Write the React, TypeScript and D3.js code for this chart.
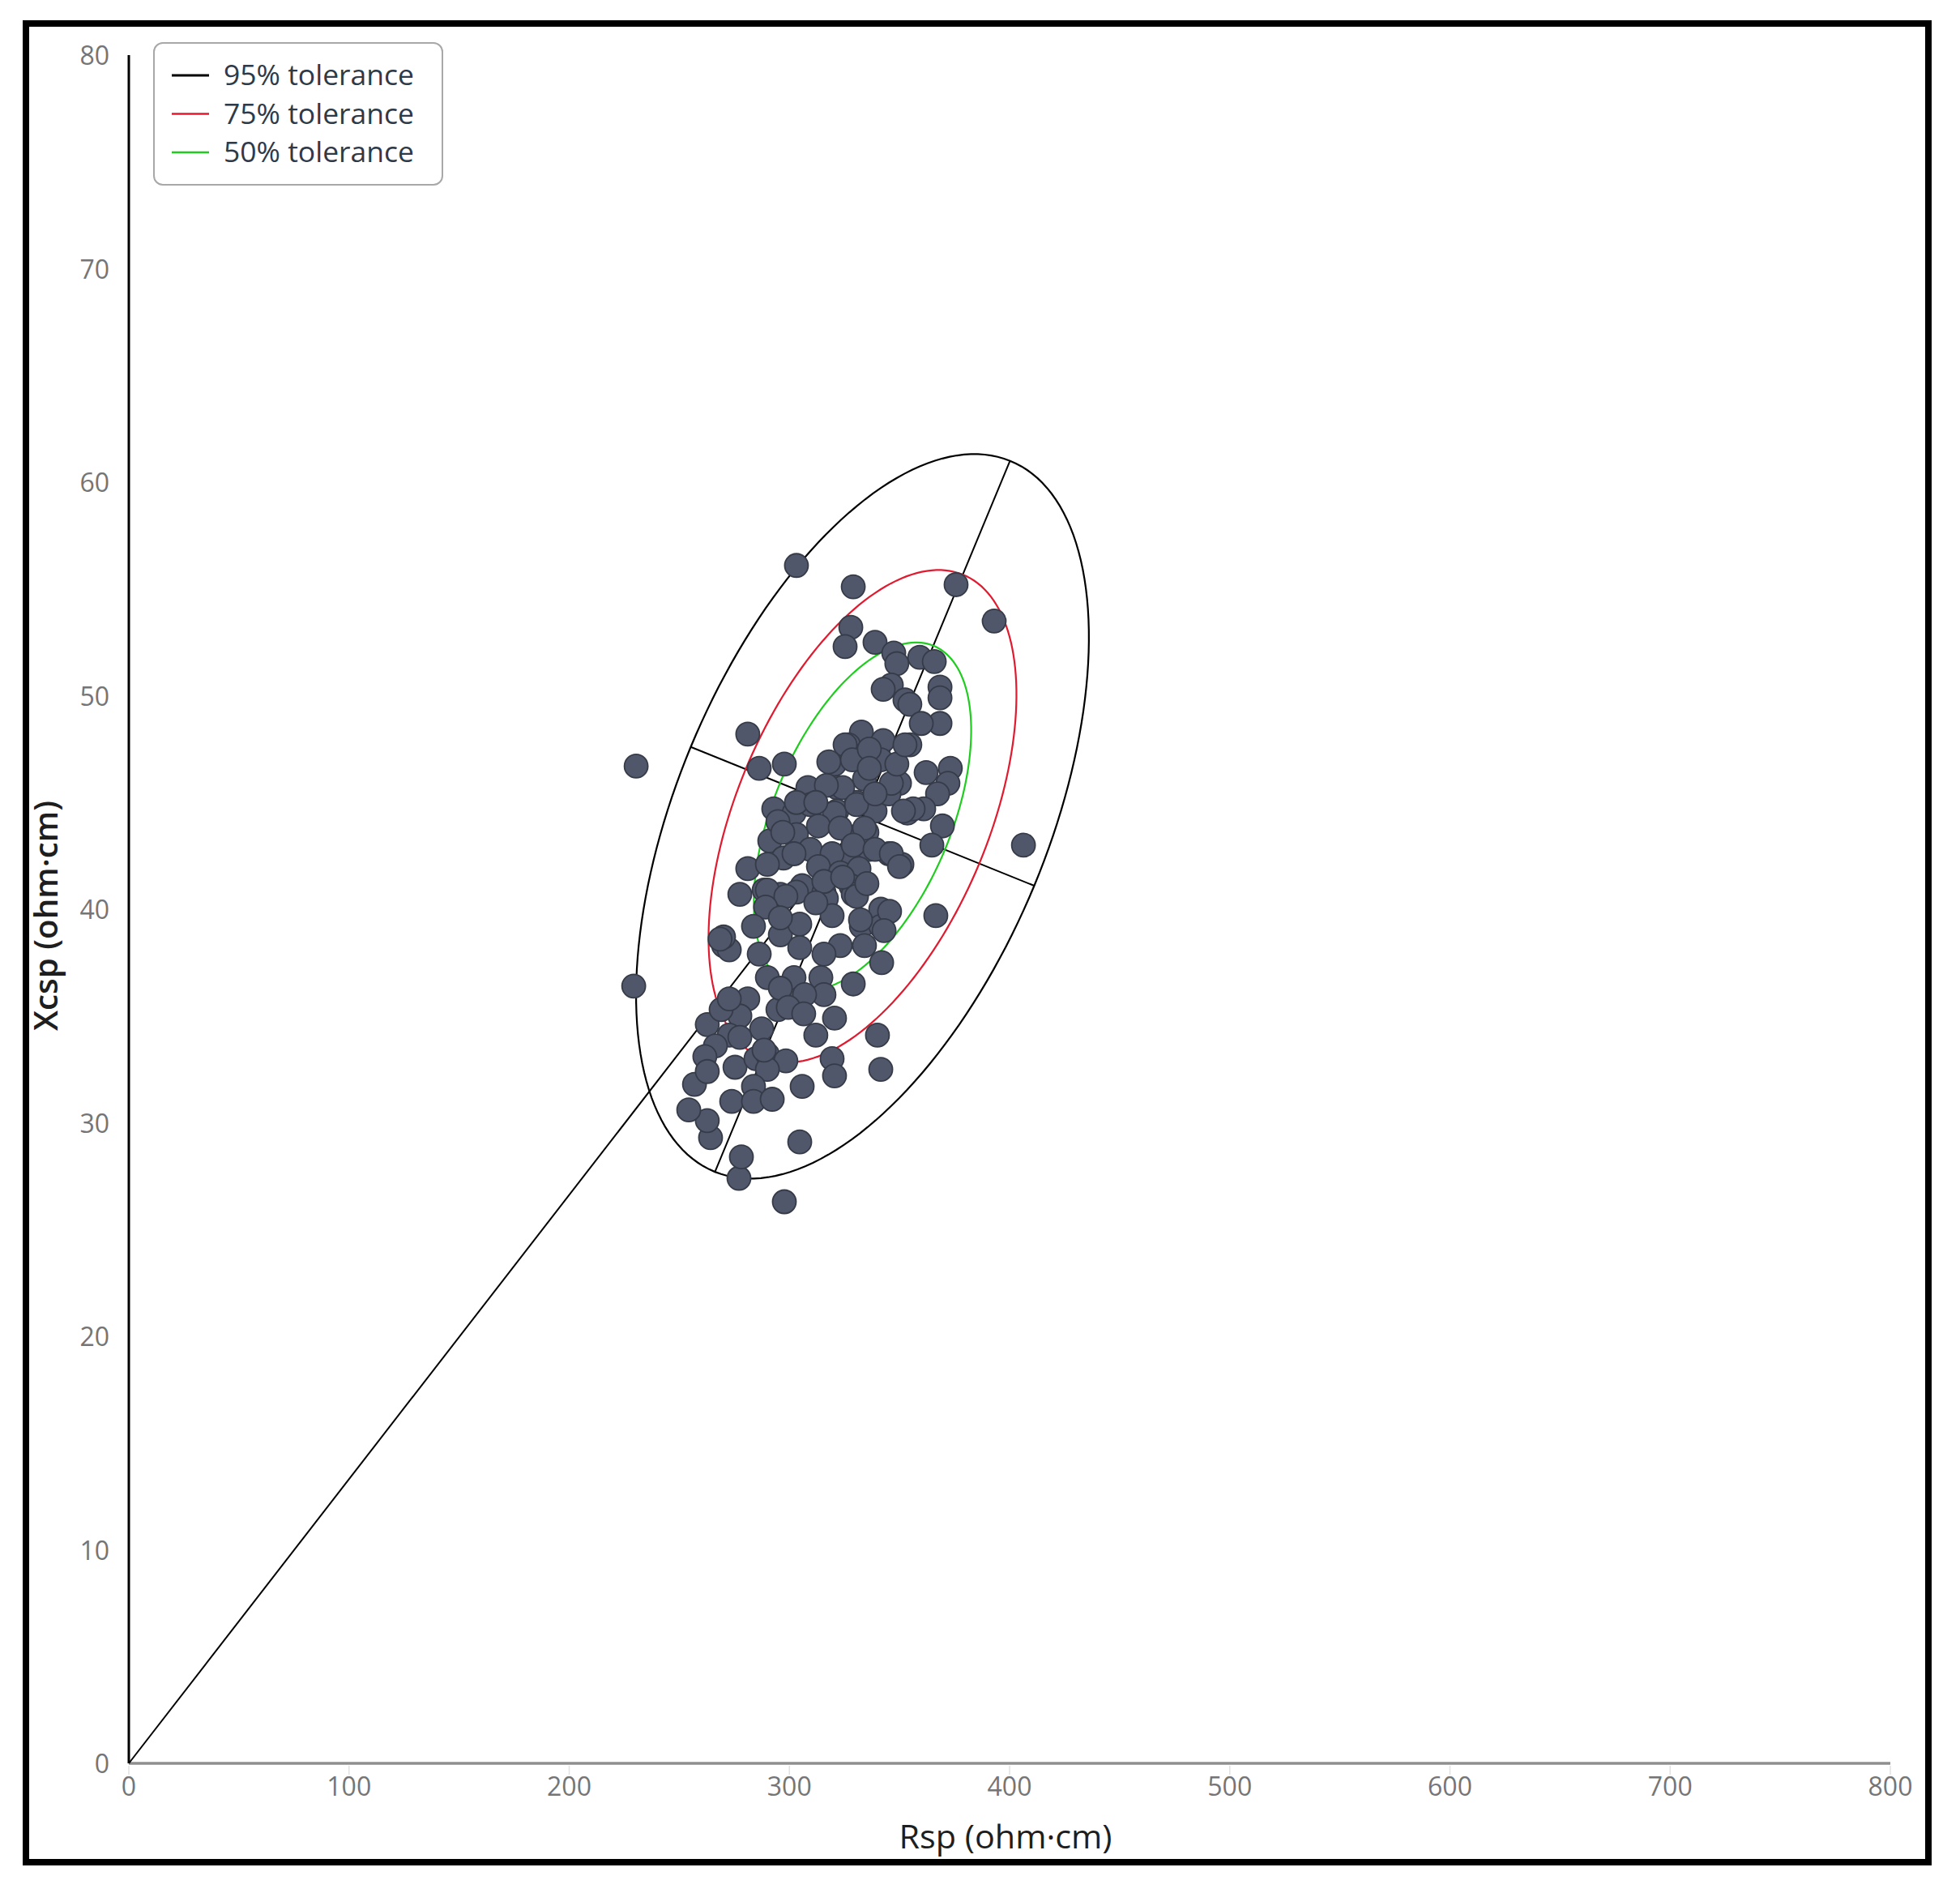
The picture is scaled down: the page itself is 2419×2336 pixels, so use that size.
import React from 'react';
import * as d3 from 'd3';

// Rsp / Xcsp measurements (ohm·cm), paired by index
const rspValues = [
  303.2, 329.0, 375.7, 393.0, 230.4, 229.3, 406.3, 297.7, 277.1, 278.2,
  304.7, 264.2, 262.7, 254.3, 256.9, 281.1, 286.3, 297.7, 327.9, 325.3,
  338.9, 347.4, 348.8, 359.2, 365.8, 346.3, 342.6, 352.5, 354.7, 368.4,
  368.4, 368.4, 359.9, 354.7, 332.7, 342.6, 326.8, 329.0, 341.5, 350.0,
  362.1, 373.1, 372.0, 367.3, 361.0, 353.6, 369.5, 364.7, 320.5, 334.1,
  321.6, 330.5, 338.9, 321.6, 345.2, 329.0, 336.3, 345.2, 351.1, 324.2,
  335.2, 356.2, 325.3, 328.6, 336.3, 324.2, 308.4, 316.8, 346.3, 348.8,
  352.5, 292.9, 302.1, 309.5, 320.5, 330.5, 351.8, 313.2, 303.2, 291.1,
  294.8, 323.1, 334.1, 309.5, 319.4, 329.0, 338.9, 346.3, 297.3, 281.1,
  302.1, 313.2, 323.1, 331.6, 350.0, 277.5, 288.5, 305.8, 315.7, 327.9,
  295.9, 290.0, 270.1, 272.7, 286.3, 295.9, 304.7, 303.2, 316.8, 329.0,
  319.4, 332.7, 341.5, 341.5, 323.1, 315.7, 304.7, 334.1, 341.9, 314.3,
  302.1, 290.0, 281.1, 294.8, 304.7, 315.7, 329.0, 320.5, 312.0, 340.0,
  277.5, 287.4, 272.7, 262.7, 266.4, 261.6, 275.3, 284.8, 290.0, 298.4,
  290.0, 319.4, 320.5, 341.5, 262.7, 283.7, 273.8, 283.7, 292.2, 305.8,
  345.5, 343.0, 366.5, 315.7, 324.2, 330.5, 335.2, 332.3, 312.0, 298.4,
  289.2, 283.7, 295.9, 270.1, 295.9, 306.9, 269.0, 299.5, 306.5, 277.5,
  288.5, 272.7, 268.5, 297.0, 290.0, 336.3, 338.9, 303.2, 312.0, 317.9,
];
const xcspValues = [
  56.1, 55.1, 55.2, 53.5, 46.7, 36.4, 43.0, 26.3, 27.4, 28.4,
  29.1, 29.3, 30.1, 30.6, 31.8, 48.2, 46.6, 46.8, 53.2, 52.3,
  52.5, 52.0, 51.5, 51.8, 51.6, 50.5, 50.3, 49.8, 49.6, 50.4,
  49.9, 48.7, 48.7, 47.7, 48.3, 47.9, 47.7, 47.2, 47.0, 45.9,
  46.4, 46.6, 45.9, 45.4, 44.7, 44.5, 43.9, 43.0, 46.8, 46.1,
  45.7, 45.0, 44.6, 44.6, 45.4, 43.2, 42.8, 42.6, 42.1, 42.4,
  43.6, 44.7, 47.7, 47.0, 47.5, 45.7, 45.7, 45.8, 45.9, 46.8,
  47.7, 44.7, 44.5, 44.9, 44.5, 44.9, 44.6, 43.9, 43.5, 43.2,
  44.1, 43.8, 43.8, 42.8, 42.6, 43.0, 42.8, 42.6, 42.4, 41.9,
  42.6, 42.0, 41.7, 41.9, 42.0, 40.7, 40.9, 41.1, 40.8, 41.1,
  40.7, 40.9, 38.3, 38.1, 37.9, 38.8, 39.3, 40.8, 40.5, 40.7,
  39.7, 39.2, 40.0, 39.2, 38.3, 37.9, 38.2, 38.3, 37.5, 36.8,
  36.8, 36.8, 35.8, 35.3, 35.8, 36.0, 36.5, 34.9, 34.1, 34.1,
  35.0, 34.4, 34.1, 34.6, 33.6, 33.1, 32.6, 33.0, 33.2, 32.9,
  32.5, 33.0, 32.2, 32.5, 32.4, 31.7, 31.0, 31.0, 31.1, 31.7,
  39.9, 39.0, 39.7, 41.3, 41.5, 40.6, 41.2, 39.5, 40.3, 40.6,
  40.1, 39.2, 39.6, 38.7, 36.3, 36.0, 35.3, 35.4, 35.1, 34.0,
  33.4, 35.8, 38.6, 43.6, 42.1, 46.6, 45.4, 45.0, 45.0, 46.9,
];

const ellipseCenter = [333.2, 44.35];
const majorSemiAxis = [67.0, 16.65];
const minorSemiAxis = [78.0, -3.25];
const toleranceLabels = ['95% tolerance', '75% tolerance', '50% tolerance'];
const toleranceScales = [1, 0.68, 0.48];

const xTicks = [0, 100, 200, 300, 400, 500, 600, 700, 800];
const yTicks = [0, 10, 20, 30, 40, 50, 60, 70, 80];

const W = 2419;
const H = 2336;
const toleranceColors = ['#000000', '#e01b30', '#1fcc1f'];
const font = '"Open Sans", "DejaVu Sans", sans-serif';

export default function App() {
  const x = d3.scaleLinear().domain([0, 800]).range([159, 2333]);
  const y = d3.scaleLinear().domain([0, 80]).range([2176, 68]);

  const [cx, cy] = ellipseCenter;
  const angles = d3.range(0, 2 * Math.PI, Math.PI / 90);
  const line = d3.line<[number, number]>()
    .x(d => x(d[0]))
    .y(d => y(d[1]))
    .curve(d3.curveLinearClosed);
  const ellipsePath = (k: number) =>
    line(angles.map(t => [
      cx + k * (Math.cos(t) * majorSemiAxis[0] + Math.sin(t) * minorSemiAxis[0]),
      cy + k * (Math.cos(t) * majorSemiAxis[1] + Math.sin(t) * minorSemiAxis[1]),
    ] as [number, number])) ?? '';

  const points = rspValues.map((r, i) => [r, xcspValues[i]]);

  return (
    <svg width={W} height={H} style={{ position: 'absolute', left: 0, top: 0, background: '#fff' }}>
      <rect x={0} y={0} width={W} height={H} fill="#fff" />
      {/* outer frame */}
      <rect x={32} y={29} width={2348} height={2269} fill="none" stroke="#000" strokeWidth={8} />

      {/* axes */}
      <line x1={x(0)} x2={x(800)} y1={y(0)} y2={y(0)} stroke="#8f8f8f" strokeWidth={3.5} />
      {xTicks.map(t => (
        <line key={'xt' + t} x1={x(t)} x2={x(t)} y1={y(0) + 3} y2={y(0) + 14} stroke="#e2e2e2" strokeWidth={1.5} />
      ))}
      <line x1={x(0)} x2={x(0)} y1={y(80)} y2={y(0)} stroke="#000" strokeWidth={3} />

      {xTicks.map(t => (
        <text key={'xl' + t} x={x(t)} y={y(0) + 40} textAnchor="middle" fontFamily={font} fontSize={32} fill="#757575">
          {t}
        </text>
      ))}
      {yTicks.map(t => (
        <text key={'yl' + t} x={x(0) - 24} y={y(t) + 12} textAnchor="end" fontFamily={font} fontSize={32} fill="#757575">
          {t}
        </text>
      ))}

      <text x={1241} y={2281} textAnchor="middle" fontFamily={font} fontSize={40} fill="#1e1e1e"
        textLength={263} lengthAdjust="spacingAndGlyphs">
        Rsp (ohm·cm)
      </text>
      <text transform="translate(71, 1130) rotate(-90)" textAnchor="middle" fontFamily={font} fontSize={40}
        fontWeight={600} fill="#1e1e1e" textLength={284} lengthAdjust="spacingAndGlyphs">
        Xcsp (ohm·cm)
      </text>

      {/* mean vector and ellipse axes */}
      <line x1={x(0)} y1={y(0)} x2={x(cx)} y2={y(cy)} stroke="#000" strokeWidth={2} />
      <line x1={x(cx - majorSemiAxis[0])} y1={y(cy - majorSemiAxis[1])} x2={x(cx + majorSemiAxis[0])} y2={y(cy + majorSemiAxis[1])} stroke="#000" strokeWidth={2} />
      <line x1={x(cx - minorSemiAxis[0])} y1={y(cy - minorSemiAxis[1])} x2={x(cx + minorSemiAxis[0])} y2={y(cy + minorSemiAxis[1])} stroke="#000" strokeWidth={2} />

      {toleranceScales.map((k, i) => (
        <path key={'el' + i} d={ellipsePath(k)} fill="none" stroke={toleranceColors[i]} strokeWidth={2.2} />
      ))}

      {/* measurements */}
      <g>
        {points.map((p, i) => (
          <circle key={i} cx={x(p[0])} cy={y(p[1])} r={14.5} fill="#50576b" stroke="#363b48" strokeWidth={1.8} />
        ))}
      </g>

      {/* legend */}
      <g>
        <rect x={190} y={53} width={356} height={175} rx={11} fill="#fff" stroke="#a8a8a8" strokeWidth={2} />
        {toleranceLabels.map((label, i) => (
          <g key={label} transform={`translate(0, ${93 + i * 47.5})`}>
            <line x1={212} x2={258} y1={0} y2={0} stroke={toleranceColors[i]} strokeWidth={i === 0 ? 3 : 2.5} />
            <text x={276} y={12} fontFamily={font} fontSize={35.5} fill="#2e3a48">
              {label}
            </text>
          </g>
        ))}
      </g>
    </svg>
  );
}
